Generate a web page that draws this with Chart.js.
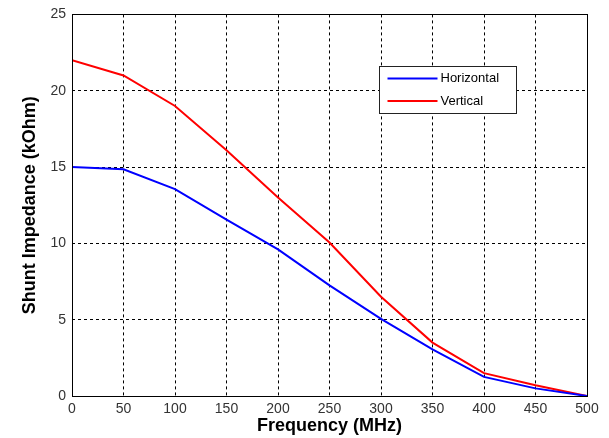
<!DOCTYPE html>
<html lang="en">
<head>
    <meta charset="UTF-8">
    <title>Shunt Impedance vs Frequency</title>
    <script src="https://cdn.jsdelivr.net/npm/chart.js"></script>
    <style>
        html, body {
            margin: 0;
            padding: 0;
            background: #ffffff;
        }

        .wrap {
            width: 609px;
            height: 438px;
        }
    </style>
</head>
<body>
    <div class="wrap">
        <canvas id="impChart" width="609" height="438"></canvas>
    </div>

    <script>
        // Data
        const frequencies = [0, 50, 100, 150, 200, 250, 300, 350, 400, 450, 500];
        const horizontal = [15, 14.85, 13.55, 11.55, 9.6, 7.25, 5.05, 3.05, 1.25, 0.5, 0];
        const vertical = [22, 21, 19, 16.1, 13, 10.05, 6.5, 3.5, 1.5, 0.7, 0];
        const seriesNames = ['Horizontal', 'Vertical'];

        const toPoints = (vals) => frequencies.map((f, i) => ({ x: f, y: vals[i] }));

        // frame round the plot area + legend box inside it
        const boxAndLegend = {
            id: 'boxAndLegend',
            afterDraw(chart) {
                const { ctx, chartArea: a } = chart;
                ctx.save();
                ctx.setLineDash([]);
                ctx.strokeStyle = '#000';
                ctx.lineWidth = 1;
                const l = Math.round(a.left) + 0.5;
                const t = Math.round(a.top) + 0.5;
                const r = Math.round(a.right) + 0.5;
                const b = Math.round(a.bottom) + 0.5;
                ctx.strokeRect(l, t, r - l, b - t);

                // legend
                const bx = Math.round(a.right) - 208 + 0.5;
                const by = Math.round(a.top) + 52 + 0.5;
                const bw = 137, bh = 47;
                ctx.fillStyle = '#fff';
                ctx.fillRect(bx, by, bw, bh);
                ctx.strokeStyle = '#222';
                ctx.strokeRect(bx, by, bw, bh);
                ctx.font = '13px "Liberation Sans", Arial, sans-serif';
                ctx.textBaseline = 'middle';
                chart.data.datasets.forEach((ds, i) => {
                    const yy = by + 12 + i * 22.5;
                    ctx.strokeStyle = ds.borderColor;
                    ctx.lineWidth = 2;
                    ctx.beginPath();
                    ctx.moveTo(bx + 8, yy);
                    ctx.lineTo(bx + 58, yy);
                    ctx.stroke();
                    ctx.fillStyle = '#000';
                    ctx.fillText(ds.label, bx + 61, yy);
                });
                ctx.restore();
            }
        };

        const tickFont = { family: '"Liberation Sans", Arial, sans-serif', size: 14 };
        const titleFont = { family: '"Liberation Sans", Arial, sans-serif', size: 18, weight: 'bold' };

        const ctx = document.getElementById('impChart').getContext('2d');
        new Chart(ctx, {
            type: 'line',
            data: {
                datasets: [
                    {
                        label: seriesNames[0],
                        data: toPoints(horizontal),
                        borderColor: '#0000ff',
                        borderWidth: 2,
                        pointRadius: 0,
                        tension: 0,
                        fill: false,
                    },
                    {
                        label: seriesNames[1],
                        data: toPoints(vertical),
                        borderColor: '#ff0000',
                        borderWidth: 2,
                        pointRadius: 0,
                        tension: 0,
                        fill: false,
                    },
                ],
            },
            options: {
                responsive: false,
                animation: false,
                layout: {
                    padding: { top: 13, right: 22, left: 0, bottom: 0 },
                },
                plugins: {
                    legend: { display: false },
                    tooltip: { enabled: false },
                },
                scales: {
                    x: {
                        type: 'linear',
                        min: 0,
                        max: 500,
                        afterFit: (s) => { s.height = 42; },
                        ticks: {
                            stepSize: 50,
                            padding: 5,
                            color: '#333',
                            font: tickFont,
                            maxRotation: 0,
                        },
                        grid: {
                            color: '#000',
                            lineWidth: 1,
                            drawTicks: false,
                        },
                        border: { display: false, dash: [3, 3] },
                        title: {
                            display: true,
                            text: 'Frequency (MHz)',
                            color: '#000',
                            font: titleFont,
                            padding: { top: 0, bottom: 1 },
                        },
                    },
                    y: {
                        min: 0,
                        max: 25,
                        afterFit: (s) => { s.width = 72; },
                        ticks: {
                            stepSize: 5,
                            padding: 6,
                            color: '#333',
                            font: tickFont,
                        },
                        grid: {
                            color: '#000',
                            lineWidth: 1,
                            drawTicks: false,
                        },
                        border: { display: false, dash: [3, 3] },
                        title: {
                            display: true,
                            text: 'Shunt Impedance (kOhm)',
                            color: '#000',
                            font: titleFont,
                            padding: { top: 19, bottom: 0 },
                        },
                    },
                },
            },
            plugins: [boxAndLegend],
        });
    </script>
</body>
</html>
